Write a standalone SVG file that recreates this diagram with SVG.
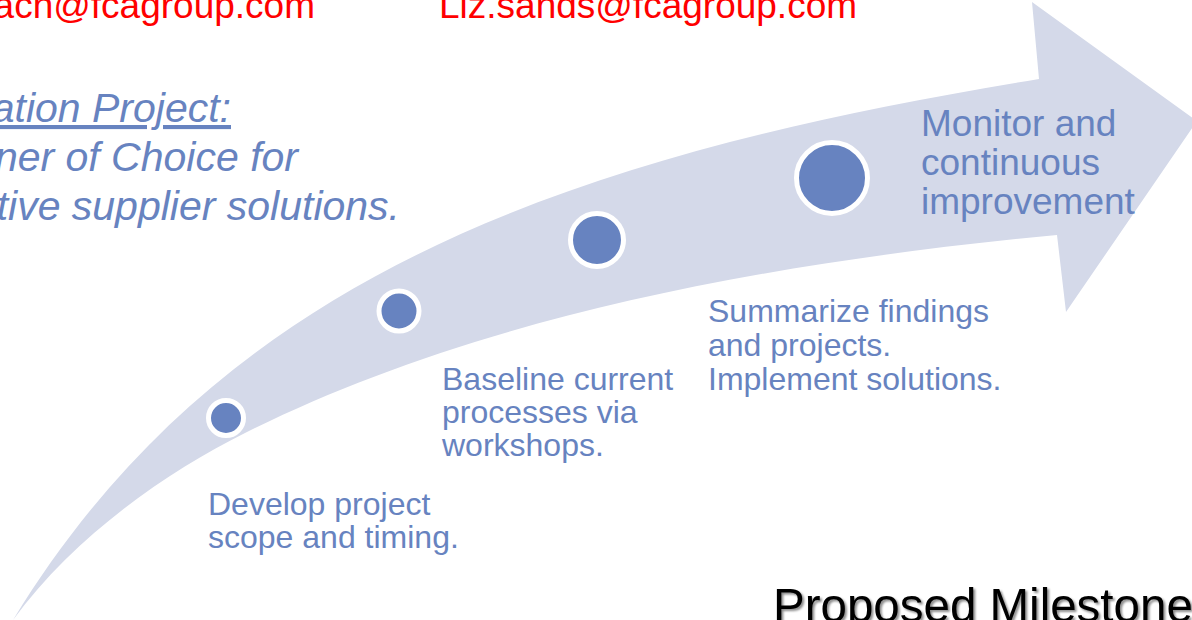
<svg xmlns="http://www.w3.org/2000/svg" width="1192" height="620" viewBox="0 0 1192 620">
  <defs>
    <filter id="softShadow" x="-5%" y="-20%" width="110%" height="150%">
      <feDropShadow dx="2" dy="2" stdDeviation="1.2" flood-color="#000" flood-opacity="0.45"/>
    </filter>
  </defs>
  <style>
    text { font-family: "Liberation Sans", Arial, sans-serif; }
    .email { fill: #FF0000; font-size: 37px; }
    .goal { fill: #6783C0; font-size: 41px; font-style: italic; }
    .step { fill: #6783C0; font-size: 32px; }
    .stepBig { fill: #6783C0; font-size: 37px; }
    .title { fill: #000; font-size: 47.5px; }
    .dot { fill: #6783C0; stroke: #FFFFFF; stroke-width: 5; }
    .band { fill: #D4D9E9; }
  </style>
  <rect width="1192" height="620" fill="#FFFFFF"/>

  <!-- contact addresses -->
  <text class="email" x="315" y="18" text-anchor="end">ach@fcagroup.com</text>
  <text class="email" x="439" y="18">Liz.sands@fcagroup.com</text>

  <!-- project goal -->
  <g id="goal">
    <text class="goal" x="231" y="122" text-anchor="end" text-decoration="underline">ation Project:</text>
    <text class="goal" x="298" y="171" text-anchor="end">ner of Choice for</text>
    <text class="goal" x="400" y="220" text-anchor="end">tive supplier solutions.</text>
  </g>

  <!-- curved progress arrow -->
  <g id="arrow">
    <path class="band" d="M13,620 C220,280 560,157 1039,79 L1032,2 L1197,121 L1066,312 L1057,235 C707,268 445,333 245,433 C170,470 75,535 13,620 Z"/>
  </g>

  <!-- milestone markers -->
  <g id="milestone-1"><circle class="dot" cx="226" cy="418" r="17.5"/></g>
  <g id="milestone-2"><circle class="dot" cx="399" cy="311" r="20"/></g>
  <g id="milestone-3"><circle class="dot" cx="597" cy="240" r="26.5"/></g>
  <g id="milestone-4"><circle class="dot" cx="832" cy="178" r="35.5"/></g>

  <!-- milestone labels -->
  <g id="label-1">
    <text class="step" x="208" y="515">Develop project</text>
    <text class="step" x="208" y="548">scope and timing.</text>
  </g>
  <g id="label-2">
    <text class="step" x="442" y="390">Baseline current</text>
    <text class="step" x="442" y="423">processes via</text>
    <text class="step" x="442" y="456">workshops.</text>
  </g>
  <g id="label-3">
    <text class="step" x="708" y="322">Summarize findings</text>
    <text class="step" x="708" y="356">and projects.</text>
    <text class="step" x="708" y="390">Implement solutions.</text>
  </g>
  <g id="label-4">
    <text class="stepBig" x="921" y="136">Monitor and</text>
    <text class="stepBig" x="921" y="175">continuous</text>
    <text class="stepBig" x="921" y="214">improvement</text>
  </g>

  <!-- heading -->
  <text class="title" x="773" y="622" filter="url(#softShadow)">Proposed Milestone</text>
</svg>
